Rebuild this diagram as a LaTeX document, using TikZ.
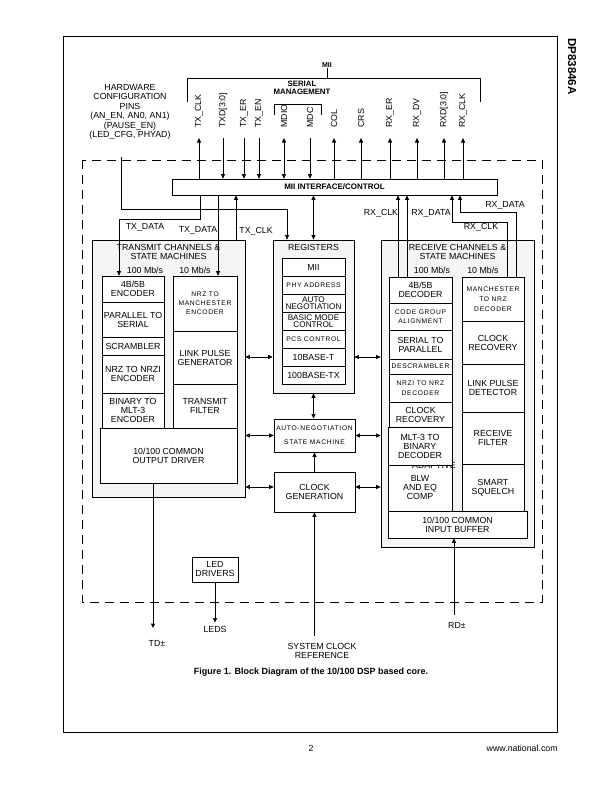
\documentclass[tikz,border=0pt]{standalone}
\usepackage{fontspec}
\setmainfont{Liberation Sans}
\newfontfamily\smlfamily[LetterSpace=10]{Liberation Sans}
\usetikzlibrary{arrows.meta}
\newcommand{\regfont}{\fontsize{8.8}{9}\selectfont}
\newcommand{\smlfont}{\smlfamily\fontsize{6.7}{9}\selectfont}
\newcommand{\smlwide}{\smlfamily\fontsize{6.7}{10}\selectfont}
\newcommand{\tightfont}{\fontsize{8.2}{7}\selectfont}

\begin{document}
\begin{tikzpicture}[x=1pt, y=-1pt, line width=0.7pt, >={Triangle[length=4.5pt,width=4pt]},
    blk/.style={draw, rectangle, fill=white, align=center, inner sep=0pt, font=\regfont},
    grp/.style={draw, rectangle, fill=gray!8, inner sep=0pt},
    lbl/.style={inner sep=0pt, align=center, font=\regfont},
    sig/.style={inner sep=0pt, font=\regfont, rotate=90, anchor=west}]
    \useasboundingbox (0,0) rectangle (612,792);
    \fill[white] (0,0) rectangle (612,792);

    % Page frame
    \draw (63,36) rectangle (557,732);
    \node[font=\bfseries\fontsize{11.5}{12}\selectfont, rotate=-90, anchor=west, inner sep=0pt] (partno) at (572,38) {DP83846A};
    \node[lbl, anchor=base] (pagenum) at (311,751) {2};
    \node[lbl, anchor=base east] (web) at (558,751) {www.national.com};

    % Chip boundary
    \draw[dash pattern=on 9pt off 6pt] (82,160) rectangle (542,602);

    % MII bus
    \node[font=\bfseries\fontsize{7}{8}\selectfont, inner sep=0pt] (miilbl) at (327,65) {MII};
    \coordinate (miibar) at (327,78);
    \draw (miilbl.south) -- (miibar);
    \draw (187,102) -- (187,78) -- (480,78) -- (480,102);
    \node[font=\bfseries\fontsize{7.8}{8.5}\selectfont, align=center, inner sep=0pt] (sermgmt) at (302,88) {SERIAL\\MANAGEMENT};
    \draw (274,115) -- (274,104) -- (321,104) -- (321,115);

    \node[blk, font=\bfseries\fontsize{8}{8}\selectfont, minimum width=325pt, minimum height=16pt] (mii) at (334.5,187) {MII INTERFACE/CONTROL};

    % MII signals
    \node[sig] (txclk) at (199,128) {TX\_CLK};
    \node[sig] (txd) at (223,128) {TXD[3:0]};
    \node[sig] (txer) at (244,128) {TX\_ER};
    \node[sig] (txen) at (259,128) {TX\_EN};
    \node[sig] (mdio) at (284,128) {MDIO};
    \node[sig] (mdc) at (310,128) {MDC};
    \node[sig] (col) at (334,128) {COL};
    \node[sig] (crs) at (361,128) {CRS};
    \node[sig] (rxer) at (390,128) {RX\_ER};
    \node[sig] (rxdv) at (417,128) {RX\_DV};
    \node[sig] (rxd) at (444,128) {RXD[3:0]};
    \node[sig] (rxclk) at (463,128) {RX\_CLK};

    \draw[<-] ([yshift=-10pt]txclk.west) -- (txclk.west |- mii.north);
    \draw[->] ([yshift=-10pt]txd.west) -- (txd.west |- mii.north);
    \draw[->] ([yshift=-10pt]txer.west) -- (txer.west |- mii.north);
    \draw[->] ([yshift=-10pt]txen.west) -- (txen.west |- mii.north);
    \draw[<->] ([yshift=-10pt]mdio.west) -- (mdio.west |- mii.north);
    \draw[->] ([yshift=-10pt]mdc.west) -- (mdc.west |- mii.north);
    \draw[<-] ([yshift=-10pt]col.west) -- (col.west |- mii.north);
    \draw[<-] ([yshift=-10pt]crs.west) -- (crs.west |- mii.north);
    \draw[<-] ([yshift=-10pt]rxer.west) -- (rxer.west |- mii.north);
    \draw[<-] ([yshift=-10pt]rxdv.west) -- (rxdv.west |- mii.north);
    \draw[<-] ([yshift=-10pt]rxd.west) -- (rxd.west |- mii.north);
    \draw[<-] ([yshift=-10pt]rxclk.west) -- (rxclk.west |- mii.north);

    % Hardware configuration pins
    \node[lbl, font=\fontsize{8.8}{9.5}\selectfont] (hwcfg) at (130,112) {HARDWARE\\CONFIGURATION\\PINS\\(AN\_EN, AN0, AN1)\\(PAUSE\_EN)\\(LED\_CFG, PHYAD)};

    % Transmit channels
    \node[grp, minimum width=153pt, minimum height=257pt] (txblk) at (168.5,368.5) {};
    \node[lbl] (txtitle) at (168.5,251.5) {TRANSMIT CHANNELS \&\\STATE MACHINES};
    \node[lbl] (txhund) at (145,270) {100 Mb/s};
    \node[lbl] (txten) at (195,270) {10 Mb/s};
    \node[blk, minimum width=62pt, minimum height=26pt] (enc) at (133,289) {4B/5B\\ENCODER};
    \node[blk, minimum width=62pt, minimum height=35pt] (ptos) at (133,319.5) {PARALLEL TO\\SERIAL};
    \node[blk, minimum width=62pt, minimum height=18pt] (scram) at (133,346) {SCRAMBLER};
    \node[blk, minimum width=62pt, minimum height=38pt] (nrzi) at (133,374) {NRZ TO NRZI\\ENCODER};
    \node[blk, minimum width=62pt, minimum height=35pt] (mltenc) at (133,410.5) {BINARY TO\\MLT-3\\ENCODER};
    \node[blk, font=\smlfont, minimum width=64pt, minimum height=55pt] (manenc) at (205,303.5) {NRZ TO\\MANCHESTER\\ENCODER};
    \node[blk, minimum width=64pt, minimum height=53pt] (lpgen) at (205,357.5) {LINK PULSE\\GENERATOR};
    \node[blk, minimum width=64pt, minimum height=44pt] (txfilt) at (205,406) {TRANSMIT\\FILTER};
    \node[blk, minimum width=137pt, minimum height=55pt] (drv) at (168.5,455.5) {10/100 COMMON\\OUTPUT DRIVER};

    % Registers
    \node[grp, minimum width=81pt, minimum height=153pt] (regs) at (313.5,316.5) {};
    \node[lbl] (regtitle) at (313.5,247.5) {REGISTERS};
    \node[blk, minimum width=63pt, minimum height=18pt] (rmii) at (313.5,267) {MII};
    \node[blk, font=\smlfont, minimum width=63pt, minimum height=18pt] (rphy) at (313.5,285) {PHY ADDRESS};
    \node[blk, font=\tightfont, minimum width=63pt, minimum height=18pt] (ran) at (313.5,303) {AUTO\\NEGOTIATION};
    \node[blk, font=\tightfont, minimum width=63pt, minimum height=18pt] (rbmc) at (313.5,321) {BASIC MODE\\CONTROL};
    \node[blk, font=\smlfont, minimum width=63pt, minimum height=18pt] (rpcs) at (313.5,339) {PCS CONTROL};
    \node[blk, minimum width=63pt, minimum height=18pt] (rten) at (313.5,357) {10BASE-T};
    \node[blk, minimum width=63pt, minimum height=18pt] (rhund) at (313.5,375) {100BASE-TX};

    % Auto-negotiation and clock
    \node[blk, font=\smlfont, minimum width=81pt, minimum height=33pt] (aneg) at (314.5,435.5) {AUTO-NEGOTIATION\\[5pt]STATE MACHINE};
    \node[blk, minimum width=81pt, minimum height=40pt] (clkgen) at (314.5,492) {CLOCK\\GENERATION};

    % Receive channels
    \node[grp, minimum width=153pt, minimum height=307pt] (rxblk) at (457.5,393.5) {};
    \node[lbl] (rxtitle) at (457.5,251.5) {RECEIVE CHANNELS \&\\STATE MACHINES};
    \node[lbl] (rxhund) at (432,270) {100 Mb/s};
    \node[lbl] (rxten) at (483,270) {10 Mb/s};
    \node[blk, minimum width=63pt, minimum height=26pt] (dec) at (420.5,290) {4B/5B\\DECODER};
    \node[blk, font=\smlfont, minimum width=63pt, minimum height=27pt] (cga) at (420.5,316.5) {CODE GROUP\\ALIGNMENT};
    \node[blk, minimum width=63pt, minimum height=29pt] (stop) at (420.5,344.5) {SERIAL TO\\PARALLEL};
    \node[blk, font=\smlfont, minimum width=63pt, minimum height=15pt] (descr) at (420.5,366.5) {DESCRAMBLER};
    \node[blk, font=\smlwide, minimum width=63pt, minimum height=28pt] (nrzdec) at (420.5,388) {NRZI TO NRZ\\DECODER};
    \node[blk, minimum width=63pt, minimum height=25pt] (rclkrec) at (420.5,414.5) {CLOCK\\RECOVERY};
    \node[blk, minimum width=64pt, minimum height=46pt] (blw) at (420,488) {BLW\\AND EQ\\COMP};
    \node[lbl] (adapt) at (434,465.5) {ADAPTIVE};
    \node[blk, minimum width=64pt, minimum height=38pt] (mltdec) at (420,446) {MLT-3 TO\\BINARY\\DECODER};
    \node[blk, font=\smlwide, minimum width=62pt, minimum height=44pt] (mandec) at (493,299) {MANCHESTER\\TO NRZ\\DECODER};
    \node[blk, minimum width=62pt, minimum height=43pt] (mclkrec) at (493,342.5) {CLOCK\\RECOVERY};
    \node[blk, minimum width=62pt, minimum height=48pt] (lpdet) at (493,388) {LINK PULSE\\DETECTOR};
    \node[blk, minimum width=62pt, minimum height=52pt] (rxfilt) at (493,438) {RECEIVE\\FILTER};
    \node[blk, minimum width=62pt, minimum height=47pt] (squelch) at (493,487.5) {SMART\\SQUELCH};
    \node[blk, minimum width=139pt, minimum height=27pt] (inbuf) at (457.5,524.5) {10/100 COMMON\\INPUT BUFFER};

    % LED drivers
    \node[blk, minimum width=46pt, minimum height=25pt] (leddrv) at (215,569.5) {LED\\DRIVERS};

    % Pins
    \node[lbl] (td) at (157,643) {TD±};
    \node[lbl] (leds) at (215,629) {LEDS};
    \node[lbl] (rd) at (457,625) {RD±};
    \node[lbl] (sysclk) at (322,651) {SYSTEM CLOCK\\REFERENCE};
    \node[font=\bfseries\fontsize{9}{10}\selectfont, inner sep=0pt] (caption) at (311,672) {Figure 1. Block Diagram of the 10/100 DSP based core.};

    % Transmit side wiring
    \coordinate (hwpin) at (121,157);
    \coordinate (hwbend) at (287,209);
    \draw[->] (hwpin) |- (hwbend) -- (hwbend |- regs.north);
    \coordinate (txdhund) at (200,219);
    \coordinate (txdhundb) at (119,219);
    \draw[->] (mii.south -| txdhund) -- (txdhund) -- (txdhundb) -- (txdhundb |- enc.north);
    \coordinate (txdten) at (218,219);
    \draw[->] (mii.south -| txdten) -- (manenc.north -| txdten);
    \coordinate (txclkup) at (236,219);
    \draw[->] (txblk.north -| txclkup) -- (mii.south -| txclkup);
    \node[lbl] (txdlbla) at (145,227) {TX\_DATA};
    \node[lbl] (txdlblb) at (198,230) {TX\_DATA};
    \node[lbl] (txclklbl) at (256,231) {TX\_CLK};

    % Receive side wiring
    \coordinate (rxclkhund) at (398,240);
    \coordinate (rxdhund) at (407,240);
    \draw[->] (dec.north -| rxclkhund) -- (mii.south -| rxclkhund);
    \draw[->] (dec.north -| rxdhund) -- (mii.south -| rxdhund);
    \coordinate (rxclkten) at (507,222);
    \coordinate (rxclktenb) at (452,222);
    \draw[->] (mandec.north -| rxclkten) -- (rxclkten) -- (rxclktenb) -- (rxclktenb |- mii.south);
    \coordinate (rxdten) at (516,212);
    \coordinate (rxdtenb) at (460,212);
    \draw[->] (mandec.north -| rxdten) -- (rxdten) -- (rxdtenb) -- (rxdtenb |- mii.south);
    \node[lbl] (rxclklbla) at (381,213) {RX\_CLK};
    \node[lbl] (rxdlbla) at (431,213) {RX\_DATA};
    \node[lbl] (rxclklblb) at (481,227) {RX\_CLK};
    \node[lbl] (rxdlblb) at (505,205) {RX\_DATA};

    % Core connections
    \draw[<->] (mii.south -| regs.north) -- (regs.north);
    \draw[<->] (regs.south) -- (regs.south |- aneg.north);
    \draw[->] (clkgen.north) -- (aneg.south);
    \draw[<->] (txblk.east |- rten) -- (regs.west |- rten);
    \draw[<->] (regs.east |- rten) -- (rxblk.west |- rten);
    \draw[<->] (txblk.east |- aneg) -- (aneg.west);
    \draw[<->] (aneg.east) -- (rxblk.west |- aneg);
    \coordinate (clkrow) at (314.5,487);
    \draw[<->] (txblk.east |- clkrow) -- (clkgen.west |- clkrow);
    \draw[<->] (clkgen.east |- clkrow) -- (rxblk.west |- clkrow);

    % External pins
    \coordinate (tdend) at (153,628);
    \draw[->] (drv.south -| tdend) -- (tdend);
    \draw[->] (leddrv.south) -- ([yshift=3pt]leds.north);
    \coordinate (rdstart) at (454,615);
    \draw[->] (rdstart) -- (rdstart |- inbuf.south);
    \coordinate (sysstart) at (314.5,636);
    \draw[->] (sysstart) -- (clkgen.south);
\end{tikzpicture}
\end{document}
